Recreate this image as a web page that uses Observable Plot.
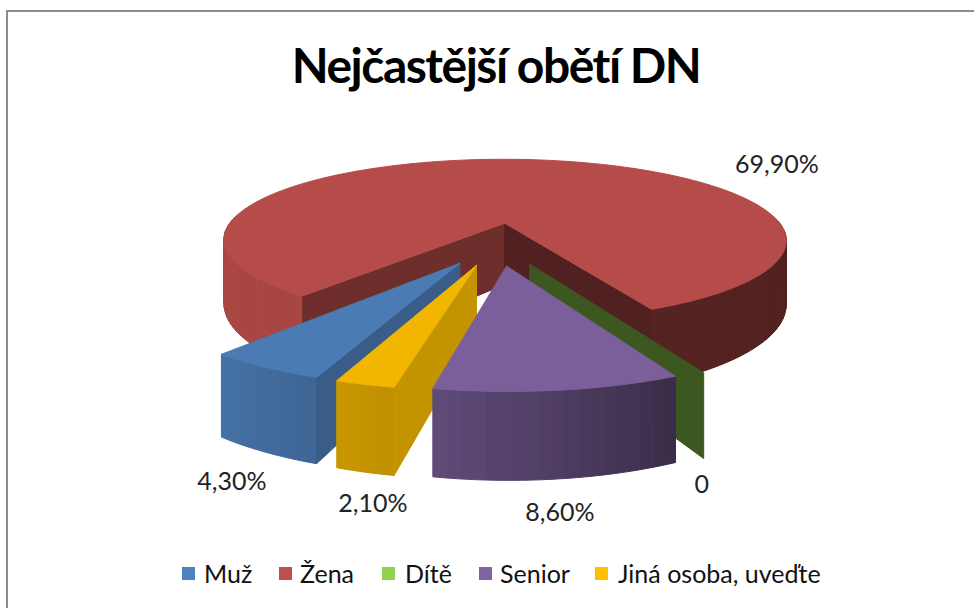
<!DOCTYPE html>
<html><head><meta charset="utf-8">
<script src="https://cdn.jsdelivr.net/npm/d3@7"></script>
<script src="https://cdn.jsdelivr.net/npm/@observablehq/plot@0.6"></script>
<style>
html,body{margin:0;padding:0;background:#fff;width:974px;height:608px;overflow:hidden}
#frame{position:absolute;left:6px;top:10px;width:968px;height:598px;box-sizing:border-box;border-left:2.5px solid #8c8c8c;border-top:2.5px solid #8c8c8c;background:#fff}
#title{position:absolute;left:9px;top:36px;width:974px;text-align:center;font:700 48px Lato,sans-serif;color:#000;letter-spacing:-1.5px}
#chart{position:absolute;left:0;top:0}
#legend{position:absolute;left:0;top:558px;font:25px Lato,sans-serif;color:#111;white-space:nowrap}
#legend span{position:absolute;top:0}
#legend i{position:absolute;top:9px;width:13px;height:13px}
</style></head><body>
<div id="frame"></div>
<div id="chart"></div>
<div id="title">Nejčastější obětí DN</div>
<div id="legend"></div>
<script>
const categories = ["Muž","Žena","Dítě","Senior","Jiná osoba, uveďte"];
const values = [4.30,69.90,0,8.60,2.10];
const valueLabels = ["4,30%","69,90%","0","8,60%","2,10%"];
const colors = ["#4F81BD","#C0504D","#92D050","#8064A2","#FFC000"];
const drawOrder = [1,2,0,4,3];
const labelDx = [-33,248,-2,1,8];
const labelDy = [30,-45,26,34,32];
const legendSwatchX = [182,279,382,479,595];
const legendTextX = [204,300,405,500,618];

// camera and pie layout
const W = 974, H = 540;
const firstSliceAngle = 200, explode = 0.25, R = 290, depth = 86, persp = 0.22, cx = 496.5, cy = 243, wallH = 64.5;
const rad = Math.PI/180;
const topShade = 0.95;
const wallShade = d3.scaleLinear([90,154,172,190,200,218,270],[.42,.44,.6,.74,.79,.87,.9]).clamp(true);
const sideShade = d3.scaleLinear([154,191,200,218],[.41,.77,.72,.57]).clamp(true);
const shade = (c,k)=>{const r=d3.rgb(c);return d3.rgb(r.r*k,r.g*k,r.b*k).formatHex();};

const arcs = d3.pie().sort(null).startAngle(firstSliceAngle*rad).endAngle((firstSliceAngle+360)*rad)(values);

function project(gx,gy,down){
  const w = 1 - persp*gy;
  return [cx + R*gx/w, cy + depth*gy/w + (down?wallH/w:0)];
}
const rows = [];
const addPoly = (id,fill,pts)=>[...pts,pts[0]].forEach(p=>rows.push({id,fill,x:p[0],y:p[1]}));

const slices = arcs.map((a,i)=>{
  const t0=a.startAngle/rad,t1=a.endAngle/rad,mid=(t0+t1)/2;
  const ox=explode*Math.sin(mid*rad), oy=-explode*Math.cos(mid*rad);
  const pt=(t,r=1)=>[ox+r*Math.sin(t*rad),oy-r*Math.cos(t*rad)];
  return {i,t0,t1,mid,ox,oy,pt};
});

drawOrder.forEach(i=>{
  const s=slices[i], c=colors[i];
  // outer wall
  if(s.t1>s.t0){
    const n=Math.ceil((s.t1-s.t0)/2);
    for(let k=0;k<n;k++){
      const a=s.t0+(s.t1-s.t0)*k/n,b=s.t0+(s.t1-s.t0)*(k+1)/n;
      const am=((a+b)/2)%360;
      if(am<85||am>275) continue;
      const pa=s.pt(a),pb=s.pt(b);
      addPoly(`w${i}-${k}`,shade(c,wallShade(am)),[project(...pa),project(...pb),project(...pb,true),project(...pa,true)]);
    }
  }
  // radial faces that look towards the camera
  [[s.t0,-1],[s.t1,1]].forEach(([t,sign],j)=>{
    const nx=sign*Math.cos(t*rad), ny=sign*Math.sin(t*rad);
    if((-s.ox)*nx+(1/persp-s.oy)*ny<=0) return;
    const p=s.pt(t), o=[s.ox,s.oy];
    addPoly(`s${i}-${j}`,shade(c,sideShade(t%360)),[project(...o),project(...p),project(...p,true),project(...o,true)]);
  });
  // top
  if(s.t1>s.t0){
    const n=Math.ceil((s.t1-s.t0)/2), pts=[project(s.ox,s.oy)];
    for(let k=0;k<=n;k++) pts.push(project(...s.pt(s.t0+(s.t1-s.t0)*k/n)));
    addPoly(`t${i}`,shade(c,topShade),pts);
  }
});

const labelRows = slices.map(s=>{
  const p=project(...s.pt(s.mid),true);
  return {label:valueLabels[s.i],x:p[0]+labelDx[s.i],y:p[1]+labelDy[s.i]};
});

const plot = Plot.plot({
  width:W,height:H,margin:0,
  x:{domain:[0,W],range:[0,W],axis:null},
  y:{domain:[0,H],range:[0,H],axis:null},
  color:{type:"identity"},
  style:{background:"transparent"},
  marks:[
    Plot.line(rows,{x:"x",y:"y",z:"id",fill:"fill",stroke:"fill",strokeWidth:1,strokeLinejoin:"round",curve:"linear"}),
    Plot.text(labelRows,{x:"x",y:"y",text:"label",fontSize:25,fontFamily:"Lato, sans-serif",fill:"#222"})
  ]
});
document.getElementById("chart").append(plot);

const legend=d3.select("#legend");
categories.forEach((c,i)=>{
  legend.append("i").style("left",legendSwatchX[i]+"px").style("background",colors[i]);
  legend.append("span").style("left",legendTextX[i]+"px").text(c);
});
</script>
</body></html>
